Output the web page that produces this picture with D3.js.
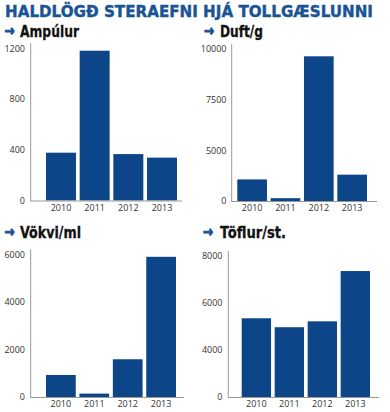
<!DOCTYPE html>
<html>
<head>
<meta charset="utf-8">
<script src="https://cdn.jsdelivr.net/npm/d3@7"></script>
<style>
  body { margin: 0; background: #fff; }
  svg { display: block; }
  .tick text { font-family: "Open Sans", "DejaVu Sans", sans-serif; font-size: 9px; fill: #333; }
</style>
</head>
<body>
<svg width="390" height="412"></svg>
<script>
var years = ["2010", "2011", "2012", "2013"];

var ampulur = [377, 1181, 366, 338];
var duft = [2130, 280, 9640, 2600];
var vokvi = [926, 143, 1587, 5895];
var toflur = [5350, 4970, 5220, 7360];

var ampTicks = [0, 400, 800, 1200];
var duftTicks = [0, 5000, 7500, 10000];
var vokviTicks = [0, 2000, 4000, 6000];
var toflurTicks = [0, 4000, 6000, 8000];

var titleText = "HALDLÖGÐ STERAEFNI HJÁ TOLLGÆSLUNNI";
var panelTitles = ["Ampúlur", "Duft/g", "Vökvi/ml", "Töflur/st."];

var barColor = "#0c4689";
var blue = "#1a5494";

var svg = d3.select("svg");

svg.append("text")
  .attr("x", 5)
  .attr("y", 17)
  .attr("textLength", 368)
  .attr("lengthAdjust", "spacingAndGlyphs")
  .style("font-family", "'DejaVu Sans', sans-serif")
  .style("font-weight", "bold")
  .style("font-size", "15.5px")
  .style("fill", blue)
  .style("stroke", blue)
  .style("stroke-width", 0.4)
  .text(titleText);

// panel layouts (pixel positions only)
var panels = [
  { values: ampulur, ticks: ampTicks, title: panelTitles[0], tx: 4.5, ty: 37, tw: 59, lx: 20,
    axisX: 30.7, top: 48.3, bottom: 200.5, barL: 46, barR: 177, baseEnd: 182, tickRight: 25 },
  { values: duft, ticks: duftTicks, title: panelTitles[1], tx: 204, ty: 37, tw: 43, lx: 220,
    axisX: 231.7, top: 49, bottom: 201, barL: 237.3, barR: 367, baseEnd: 377, tickRight: 226.5 },
  { values: vokvi, ticks: vokviTicks, title: panelTitles[2], tx: 4.5, ty: 237.5, tw: 61, lx: 20,
    axisX: 30.7, top: 254.3, bottom: 397, barL: 46, barR: 176, baseEnd: 184, tickRight: 25 },
  { values: toflur, ticks: toflurTicks, title: panelTitles[3], tx: 203, ty: 237.5, tw: 66, lx: 220,
    axisX: 228.3, top: 256, bottom: 397, barL: 241.7, barR: 370, baseEnd: 379, tickRight: 222.5 }
];

panels.forEach(function(p) {
  var g = svg.append("g");

  g.append("text")
    .attr("x", p.tx)
    .attr("y", p.ty - 1)
    .attr("textLength", 10)
    .attr("lengthAdjust", "spacingAndGlyphs")
    .style("font-family", "'DejaVu Sans', sans-serif")
    .style("font-weight", "bold")
    .style("font-size", "15px")
    .style("fill", blue)
    .style("stroke", blue)
    .style("stroke-width", 1.1)
    .text("→");

  g.append("text")
    .attr("x", p.lx)
    .attr("y", p.ty)
    .attr("textLength", p.tw)
    .attr("lengthAdjust", "spacingAndGlyphs")
    .style("font-family", "'DejaVu Sans', sans-serif")
    .style("font-weight", "bold")
    .style("font-size", "15px")
    .style("fill", "#111")
    .style("stroke", "#111")
    .style("stroke-width", 0.3)
    .text(p.title);

  var n = p.ticks.length;
  // ticks are evenly spaced on the original, even where the value gap is not
  var y = d3.scaleLinear()
    .domain(p.ticks)
    .range(p.ticks.map(function(d, i) { return p.bottom - i * (p.bottom - p.top) / (n - 1); }));

  var x = d3.scaleBand()
    .domain(years)
    .range([p.barL, p.barR])
    .paddingInner(0.11)
    .paddingOuter(0);

  g.selectAll("rect")
    .data(p.values)
    .enter().append("rect")
    .attr("x", function(d, i) { return x(years[i]); })
    .attr("width", x.bandwidth())
    .attr("y", function(d) { return y(d); })
    .attr("height", function(d) { return y(0) - y(d); })
    .attr("fill", barColor);

  // axis lines
  g.append("line")
    .attr("x1", p.axisX).attr("x2", p.axisX)
    .attr("y1", p.top - 5).attr("y2", p.bottom + 1)
    .attr("stroke", "#999").attr("stroke-width", 1);
  g.append("line")
    .attr("x1", p.axisX).attr("x2", p.baseEnd)
    .attr("y1", p.bottom + 0.5).attr("y2", p.bottom + 0.5)
    .attr("stroke", "#999").attr("stroke-width", 1);

  var yAxis = g.append("g")
    .attr("transform", "translate(" + p.tickRight + ",0)")
    .call(d3.axisLeft(y).tickValues(p.ticks).tickSize(0).tickPadding(0).tickFormat(d3.format("d")));
  yAxis.select(".domain").remove();

  var xAxis = g.append("g")
    .attr("transform", "translate(0," + (p.bottom + 2) + ")")
    .call(d3.axisBottom(x).tickSize(0).tickPadding(2));
  xAxis.select(".domain").remove();
});
</script>
</body>
</html>
